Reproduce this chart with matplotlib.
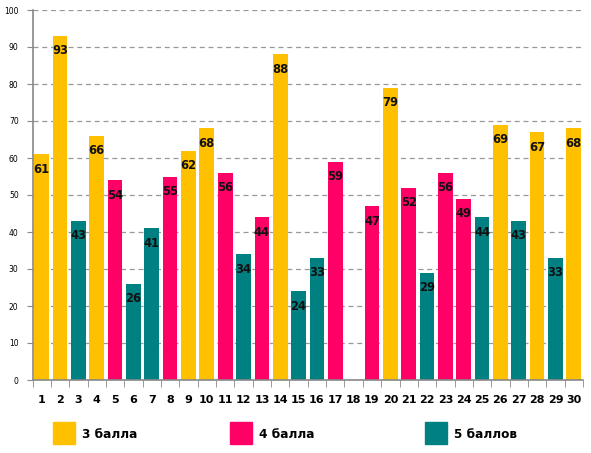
import matplotlib
matplotlib.use("Agg")
import matplotlib.pyplot as plt
from matplotlib.patches import Rectangle

categories = [str(i) for i in range(1, 31)]
values = [61, 93, 43, 66, 54, 26, 41, 55, 62, 68, 56, 34, 44, 88, 24, 33, 59, None,
          47, 79, 52, 29, 56, 49, 44, 69, 43, 67, 33, 68]
groups = [0, 0, 2, 0, 1, 2, 2, 1, 0, 0, 1, 2, 1, 0, 2, 2, 1, None,
          1, 0, 1, 2, 1, 1, 2, 0, 2, 0, 2, 0]
series_names = ["3 балла", "4 балла", "5 баллов"]
series_colors = ["#FFC000", "#FF0066", "#008080"]

W, H = 591, 453
fig = plt.figure(figsize=(W / 100, H / 100), dpi=100)
ax = fig.add_axes([32.5 / W, 1 - 380 / H, (583 - 32.5) / W, 370 / H])

xs = list(range(len(categories)))
for x, v, g in zip(xs, values, groups):
    if v is None:
        continue
    ax.bar(x, v, width=0.8, color=series_colors[g], zorder=2)
    ax.text(x, v - 2.3, str(v), ha="center", va="top", fontsize=8.3,
            fontweight="semibold", color="#111111", family="DejaVu Sans", zorder=3)

ax.set_xlim(-0.5, len(categories) - 0.5)
ax.set_ylim(0, 100)
ax.set_yticks(range(0, 101, 10))
ax.tick_params(axis="y", labelsize=5.5, length=4, color="#888888", pad=6)
ax.set_xticks(xs)
ax.set_xticklabels(categories, fontsize=8, fontweight="bold")
ax.tick_params(axis="x", length=0, pad=11)
ax.set_xticks([x + 0.5 for x in [-1] + xs], minor=True)
ax.tick_params(axis="x", which="minor", length=5, color="#888888")
ax.yaxis.grid(True, linestyle=(0, (4, 3)), color="#999999", linewidth=0.9, zorder=0)
ax.set_axisbelow(True)
for s in ["top", "right"]:
    ax.spines[s].set_visible(False)
for s in ["left", "bottom"]:
    ax.spines[s].set_color("#888888")
    ax.spines[s].set_linewidth(1.2)

leg_x = [53, 230, 425]
for name, col, lx in zip(series_names, series_colors, leg_x):
    fig.patches.append(Rectangle((lx / W, 1 - 444 / H), 22 / W, 22 / H,
                                 transform=fig.transFigure, color=col, figure=fig))
    fig.text((lx + 29) / W, 1 - 434 / H, name, fontsize=8.7, fontweight="bold",
             va="center", ha="left")

fig.savefig("out.png", dpi=100)
